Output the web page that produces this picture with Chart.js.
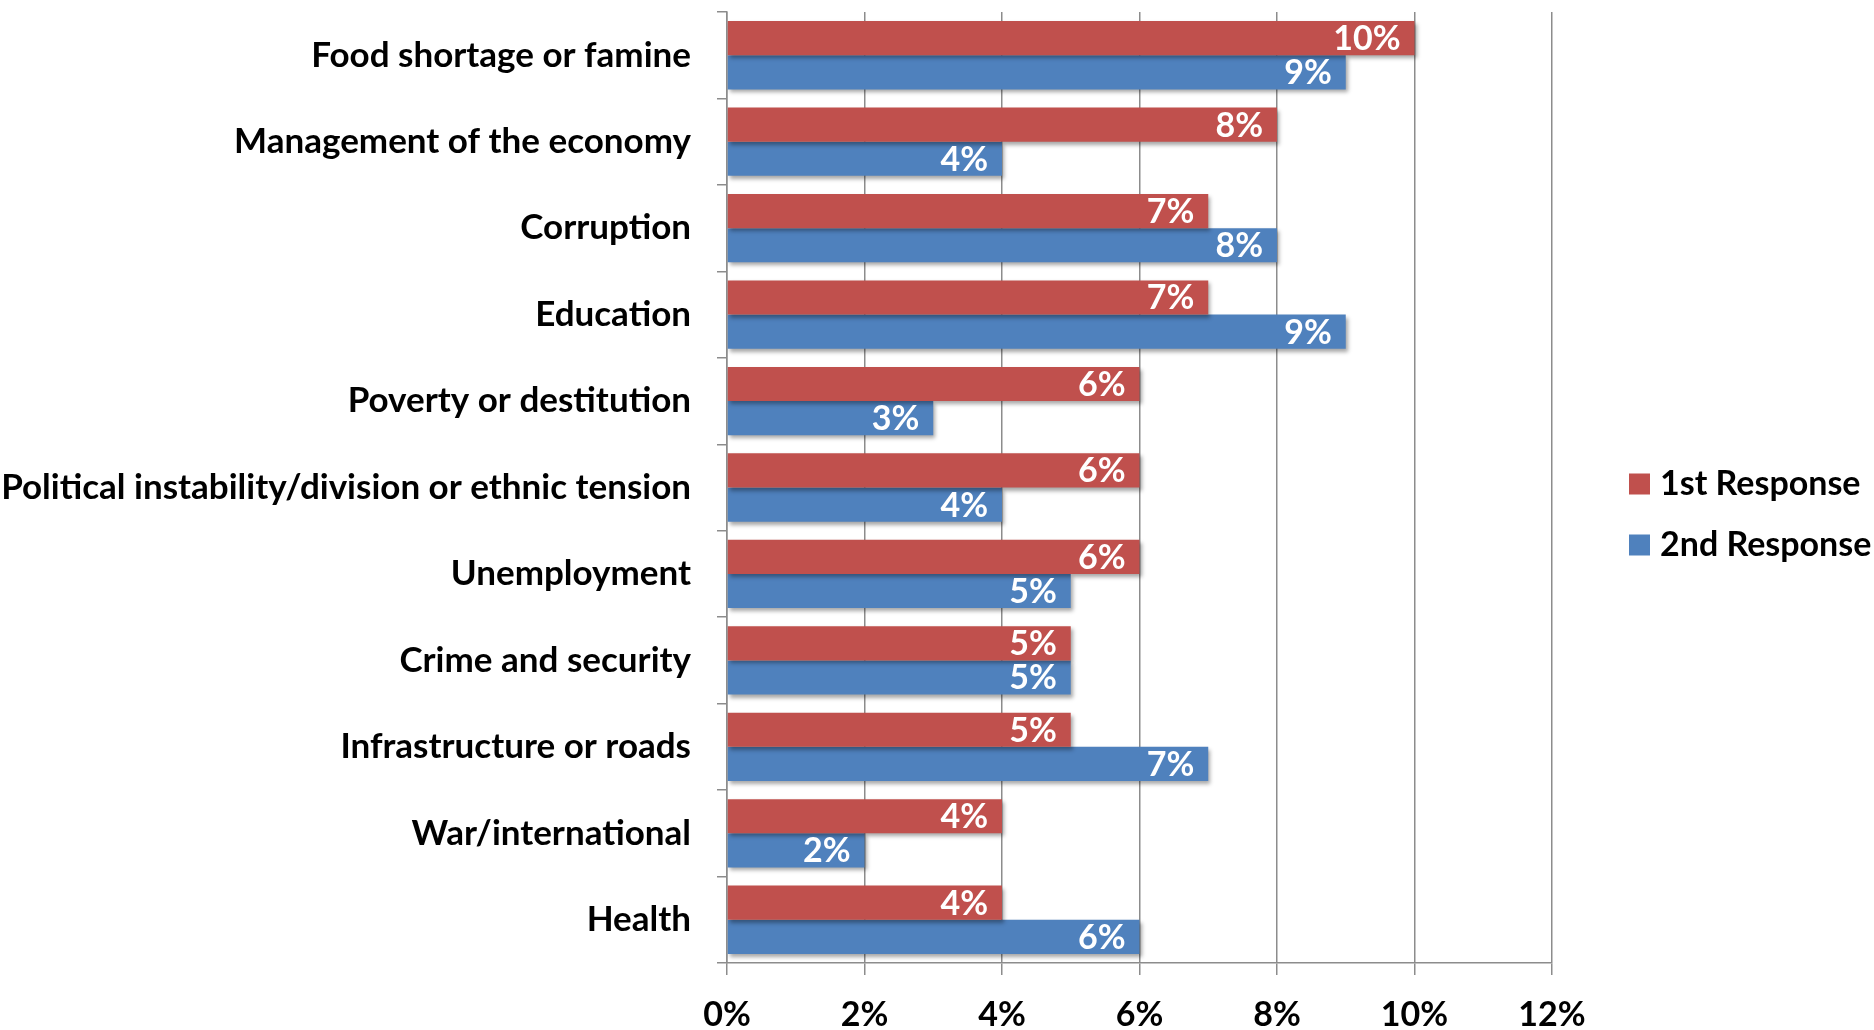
<html>
<head>
	<title>Most important problems</title>
	<script src="https://cdn.jsdelivr.net/npm/chart.js@4.4.0/dist/chart.umd.min.js"></script>
	<style>
		body { margin: 0; background: #fff; }
		#wrap { width: 1874px; height: 1030px; position: relative; }
	</style>
</head>
<body>
	<div id="wrap"><canvas id="canvas" role="img" aria-label="Most important problems, 1st and 2nd response"></canvas></div>
	<script>
		const categories = [
			'Food shortage or famine',
			'Management of the economy',
			'Corruption',
			'Education',
			'Poverty or destitution',
			'Political instability/division or ethnic tension',
			'Unemployment',
			'Crime and security',
			'Infrastructure or roads',
			'War/international',
			'Health',
		];
		const firstResponse = [10, 8, 7, 7, 6, 6, 6, 5, 5, 4, 4];
		const secondResponse = [9, 4, 8, 9, 3, 4, 5, 5, 7, 2, 6];
		const xTicks = [0, 2, 4, 6, 8, 10, 12];

		const fontFamily = 'Lato, "Open Sans", sans-serif';
		const seriesColors = ['#C0504D', '#4F81BD'];

		// white value labels at the inside end of each bar, plus a soft bar shadow
		const barLabels = {
			id: 'barLabels',
			beforeDatasetDraw(chart) {
				const c = chart.ctx;
				c.save();
				c.shadowColor = 'rgba(0,0,0,0.35)';
				c.shadowBlur = 4;
				c.shadowOffsetX = 2;
				c.shadowOffsetY = 3;
			},
			afterDatasetDraw(chart) {
				chart.ctx.restore();
			},
			afterDatasetsDraw(chart) {
				const c = chart.ctx;
				c.save();
				c.font = 'bold 34px ' + fontFamily;
				c.fillStyle = '#fff';
				c.textAlign = 'right';
				c.textBaseline = 'middle';
				chart.data.datasets.forEach((ds, i) => {
					chart.getDatasetMeta(i).data.forEach((bar, j) => {
						c.fillText(ds.data[j] + '%', bar.x - 14, bar.y + 1);
					});
				});
				c.restore();
			}
		};

		// legend on the right, vertically centred on the plot
		const sideLegend = {
			id: 'sideLegend',
			afterDraw(chart) {
				const c = chart.ctx;
				const area = chart.chartArea;
				const mid = (area.top + area.bottom) / 2;
				c.save();
				c.font = 'bold 34px ' + fontFamily;
				c.textBaseline = 'middle';
				c.textAlign = 'left';
				chart.data.datasets.forEach((ds, i) => {
					const y = mid - 3 + i * 61;
					c.fillStyle = ds.backgroundColor;
					c.fillRect(area.right + 77, y - 11, 21, 21);
					c.fillStyle = '#000';
					c.fillText(ds.label, area.right + 108, y);
				});
				c.restore();
			}
		};

		new Chart(document.getElementById('canvas'), {
			type: 'bar',
			data: {
				labels: categories,
				datasets: [
					{ label: '1st Response', data: firstResponse, backgroundColor: seriesColors[0] },
					{ label: '2nd Response', data: secondResponse, backgroundColor: seriesColors[1] },
				],
			},
			options: {
				indexAxis: 'y',
				responsive: true,
				maintainAspectRatio: false,
				animation: false,
				categoryPercentage: 0.79,
				barPercentage: 1,
				layout: { padding: { top: 12, bottom: 4, left: 0, right: 322 } },
				scales: {
					x: {
						min: 0,
						max: 12,
						afterBuildTicks: (axis) => { axis.ticks = xTicks.map((v) => ({ value: v })); },
						afterFit: (scale) => { scale.height = 63; },
						ticks: {
							callback: (v) => v + '%',
							color: '#000',
							font: { family: fontFamily, size: 34, weight: 'bold' },
							padding: 20,
						},
						grid: { color: '#8c8c8c', lineWidth: 1.5, tickLength: 12 },
						border: { color: '#8c8c8c', width: 1.5 },
					},
					y: {
						afterFit: (scale) => {
							scale.width = 727;
							scale.paddingTop = 0;
							scale.paddingBottom = 0;
						},
						ticks: {
							color: '#000',
							font: { family: fontFamily, size: 35, weight: 'bold' },
							padding: 26,
						},
						grid: { drawOnChartArea: false, color: '#8c8c8c', lineWidth: 1.5, tickLength: 10, offset: true },
						border: { color: '#8c8c8c', width: 1.5 },
					},
				},
				plugins: {
					tooltip: { enabled: false },
					legend: { display: false },
				},
			},
			plugins: [barLabels, sideLegend],
		});
	</script>
</body>
</html>
